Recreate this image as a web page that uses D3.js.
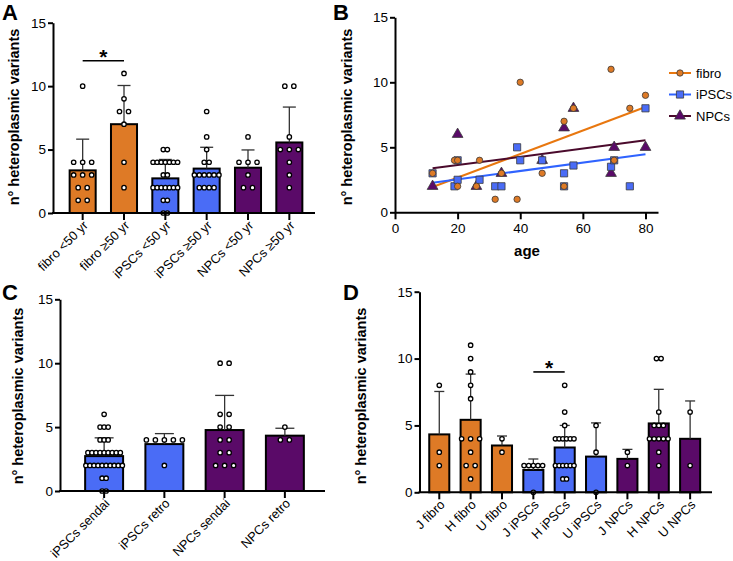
<!DOCTYPE html>
<html><head><meta charset="utf-8">
<script src="https://cdn.jsdelivr.net/npm/d3@7"></script>
<style>body{margin:0;background:#fff}svg{display:block}text{font-family:"Liberation Sans",Arial,Helvetica,sans-serif}</style>
</head><body>
<script>
// ---------- DATA ----------
const catsA = ["fibro <50 yr","fibro ≥50 yr","iPSCs <50 yr","iPSCs ≥50 yr","NPCs <50 yr","NPCs ≥50 yr"];
const groupA = ["fibro","fibro","iPSCs","iPSCs","NPCs","NPCs"];
const meanA = [3.36,7.0,2.73,3.5,3.57,5.56];
const sdA = [2.46,3.05,1.49,1.68,1.40,2.79];
const dotsA = [
  [10,4,4,4,3,3,3,2,2,1,1],
  [11,9,8,8,7,4,2],
  [5,5,4,4,4,4,4,4,4,3,3,2,2,2,2,2,2,2,1,1,0,0],
  [8,6,5,4,4,3,3,3,3,3,3,2,2,2,2],
  [6,4,4,4,3,2,2],
  [10,10,6,5,5,5,4,3,2]
];
const sigA = {from:"fibro <50 yr", to:"fibro ≥50 yr", y:12};

const catsC = ["iPSCs sendai","iPSCs retro","NPCs sendai","NPCs retro"];
const groupC = ["iPSCs","iPSCs","NPCs","NPCs"];
const meanC = [2.73,3.67,4.77,4.33];
const sdC = [1.43,0.82,2.71,0.58];
const dotsC = [
  [6,5,5,5,4,4,4,3,3,3,3,3,3,3,3,3,2,2,2,2,2,2,2,2,2,2,1,1,0,0],
  [4,4,4,4,4,2],
  [10,10,6,6,5,5,4,4,3,3,2,2,2],
  [5,4,4]
];

const catsD = ["J fibro","H fibro","U fibro","J iPSCs","H iPSCs","U iPSCs","J NPCs","H NPCs","U NPCs"];
const groupD = ["fibro","fibro","fibro","iPSCs","iPSCs","iPSCs","NPCs","NPCs","NPCs"];
const meanD = [4.33,5.42,3.5,1.67,3.35,2.67,2.5,5.15,4.0];
const sdD = [3.21,3.42,0.71,0.82,1.65,2.52,0.71,2.55,2.83];
const dotsD = [
  [8,3,2],
  [11,10,9,8,7,4,4,4,3,2,2,1],
  [4,3],
  [2,2,2,2,2,0],
  [8,6,5,4,4,4,4,4,4,2,2,2,2,2,2,1,1],
  [5,3,0],
  [3,2],
  [10,10,6,5,5,5,4,4,4,4,4,3,2],
  [6,2]
];
const sigD = {from:"J iPSCs", to:"H iPSCs", y:9};

const yTicks = [0,5,10,15];
const ageTicks = [0,20,40,60,80];

const ageFibro = [12,19,20,20,26,27,32,34,39,40,47,54,54,57,69,70,75,80];
const valFibro = [3,4,4,2,2,4,1,3,1,10,3,7,2,8,11,4,8,9];
const ageIPSC = [12,19,20,20,27,32,34,39,40,47,54,54,57,69,70,75,80];
const valIPSC = [3,2,4,2.5,2.5,2,2,5,4,4,3,2,3.6,3.5,4,2,8];
const ageNPC = [12,20,26,34,47,54,57,69,70,80];
const valNPC = [2,6,2,3,4,6.5,8,3,5,5];
const fitAge = [12,80];
const fitFibro = [1.95,8.1];
const fitIPSC = [2.28,4.46];
const fitNPC = [3.38,5.54];
const legendB = ["fibro","iPSCs","NPCs"];

// ---------- STYLE ----------
const fill = {fibro:"#DE7A26", iPSCs:"#4A6CF6", NPCs:"#5A0A68"};
const lineCol = {fibro:"#E8770F", iPSCs:"#2F63FF", NPCs:"#4A0A2C"};
const FONT = '"Liberation Sans",Arial,Helvetica,sans-serif';

const svg = d3.select("body").append("svg").attr("width",733).attr("height",561);

function letter(t,x,y){
  svg.append("text").attr("x",x).attr("y",y).text(t)
    .attr("font-size",22).attr("font-weight","bold");
}
function yTitle(x,y){
  svg.append("text").attr("transform",`translate(${x},${y}) rotate(-90)`)
    .attr("text-anchor","middle").attr("dy","0.35em")
    .attr("font-size",14.5).attr("font-weight","bold")
    .text("n° heteroplasmic variants");
}
function yAxis(y, x0){
  const g = svg.append("g").attr("transform",`translate(${x0},0)`)
    .call(d3.axisLeft(y).tickValues(yTicks).tickSize(5).tickSizeOuter(0).tickPadding(2));
  g.select(".domain").attr("stroke","#000").attr("stroke-width",2);
  g.selectAll(".tick line").attr("stroke","#000").attr("stroke-width",2);
  g.selectAll(".tick text").attr("font-size",13.5).attr("fill","#000").style("font-family",FONT);
  return g;
}

function layoutDots(vals, cx, span, maxSp){
  const counts = d3.rollup(vals, v=>v.length, d=>d);
  const maxRow = d3.max(Array.from(counts.values()));
  const sp = maxRow>1 ? Math.min(maxSp, span/(maxRow-1)) : 0;
  const out=[];
  counts.forEach((n,v)=>{ for(let i=0;i<n;i++) out.push({v, x: cx+(i-(n-1)/2)*sp}); });
  return out;
}

function barPanel(cfg){
  const {cats, groups, means, sds, dots, axisX0, axisX1, band, yRange, barFrac, sig} = cfg;
  const x = d3.scaleBand().domain(cats).range(band).padding(0);
  const y = d3.scaleLinear().domain([0,15]).range(yRange);
  const bw = x.step()*barFrac;
  const cx = c => x(c)+x.bandwidth()/2;
  const g = svg.append("g");
  g.selectAll("rect.bar").data(cats).join("rect")
    .attr("x",c=>cx(c)-bw/2).attr("width",bw)
    .attr("y",(c,i)=>y(means[i])).attr("height",(c,i)=>y(0)-y(means[i]))
    .attr("fill",(c,i)=>fill[groups[i]]).attr("stroke","#000").attr("stroke-width",2);
  const cap = bw*0.5;
  cats.forEach((c,i)=>{
    const top = y(means[i]+sds[i]);
    g.append("line").attr("x1",cx(c)).attr("x2",cx(c)).attr("y1",y(means[i])).attr("y2",top)
      .attr("stroke","#333").attr("stroke-width",1.3);
    g.append("line").attr("x1",cx(c)-cap/2).attr("x2",cx(c)+cap/2).attr("y1",top).attr("y2",top)
      .attr("stroke","#333").attr("stroke-width",1.3);
  });
  const xa = svg.append("g").attr("transform",`translate(0,${y(0)})`)
    .call(d3.axisBottom(x).tickSize(7).tickSizeOuter(0).tickFormat(""));
  xa.select(".domain").remove();
  xa.selectAll(".tick line").attr("stroke","#000").attr("stroke-width",2);
  svg.append("line").attr("x1",axisX0-1).attr("x2",axisX1).attr("y1",y(0)).attr("y2",y(0))
    .attr("stroke","#000").attr("stroke-width",2);
  cats.forEach(c=>{
    svg.append("text").attr("transform",`translate(${cx(c)+3},${y(0)+10}) rotate(-45)`)
      .attr("text-anchor","end").attr("dy","0.35em").attr("font-size",12.8).text(c);
  });
  yAxis(y, axisX0);
  cats.forEach((c,i)=>{
    const pts = layoutDots(dots[i], cx(c), bw-1.5, 9);
    g.selectAll(null).data(pts).join("circle")
      .attr("cx",d=>d.x).attr("cy",d=>y(d.v)).attr("r",2.2)
      .attr("fill","#fff").attr("stroke","#000").attr("stroke-width",1.3);
  });
  if(sig){
    const yy = y(sig.y);
    svg.append("line").attr("x1",cx(sig.from)).attr("x2",cx(sig.to)).attr("y1",yy).attr("y2",yy)
      .attr("stroke","#000").attr("stroke-width",1.6);
    svg.append("text").attr("x",(cx(sig.from)+cx(sig.to))/2).attr("y",yy+3)
      .attr("text-anchor","middle").attr("font-size",21).attr("font-weight","bold").text("*");
  }
}

// Panel A
letter("A",2,20);
yTitle(14,117);
barPanel({cats:catsA, groups:groupA, means:meanA, sds:sdA, dots:dotsA,
  axisX0:53, axisX1:315, band:[62,310], yRange:[213,22.7], barFrac:0.63, sig:sigA});

// Panel C
letter("C",2,300);
yTitle(18,396);
barPanel({cats:catsC, groups:groupC, means:meanC, sds:sdC, dots:dotsC,
  axisX0:60, axisX1:325, band:[74,315], yRange:[491,299.3], barFrac:0.63});

// Panel D
letter("D",343,300);
yTitle(361,396);
barPanel({cats:catsD, groups:groupD, means:meanD, sds:sdD, dots:dotsD,
  axisX0:419.5, axisX1:712, band:[423.6,705.8], yRange:[492.3,291.7], barFrac:0.64, sig:sigD});

// Panel B
letter("B",333,20);
yTitle(347,117);
{
  const x = d3.scaleLinear().domain([0,84]).range([395,658]);
  const y = d3.scaleLinear().domain([0,15]).range([212.3,17.3]);
  const xa = svg.append("g").attr("transform",`translate(0,${y(0)})`)
    .call(d3.axisBottom(x).tickValues(ageTicks).tickSize(7).tickSizeOuter(0).tickPadding(4));
  xa.select(".domain").attr("stroke","#000").attr("stroke-width",2);
  xa.selectAll(".tick line").attr("stroke","#000").attr("stroke-width",2);
  xa.selectAll(".tick text").attr("font-size",13.5).attr("fill","#000").style("font-family",FONT);
  yAxis(y, 395);
  svg.append("text").attr("x",527).attr("y",256).attr("text-anchor","middle")
    .attr("font-size",15).attr("font-weight","bold").text("age");

  const series = [
    {k:"fibro", ages:ageFibro, vals:valFibro, fit:fitFibro},
    {k:"iPSCs", ages:ageIPSC, vals:valIPSC, fit:fitIPSC},
    {k:"NPCs", ages:ageNPC, vals:valNPC, fit:fitNPC}
  ];
  const sym = {fibro:d3.symbolCircle, iPSCs:d3.symbolSquare, NPCs:d3.symbolTriangle};
  const size = {fibro:32, iPSCs:52, NPCs:50};
  const gl = svg.append("g");
  series.forEach(s=>{
    gl.append("line").attr("x1",x(fitAge[0])).attr("x2",x(fitAge[1]))
      .attr("y1",y(s.fit[0])).attr("y2",y(s.fit[1]))
      .attr("stroke",lineCol[s.k]).attr("stroke-width",2);
  });
  const gp = svg.append("g");
  ["NPCs","iPSCs","fibro"].forEach(k=>{
    const s = series.find(d=>d.k===k);
    s.ages.forEach((a,i)=>{
      gp.append("path").attr("d",d3.symbol().type(sym[k]).size(size[k])())
        .attr("transform",`translate(${x(a)},${y(s.vals[i])})`)
        .attr("fill",fill[k]).attr("stroke","#3a3a3a").attr("stroke-width",0.8);
    });
  });
  legendB.forEach((k,i)=>{
    const ly = 73 + i*21.5;
    svg.append("line").attr("x1",669).attr("x2",691).attr("y1",ly).attr("y2",ly)
      .attr("stroke",lineCol[k]).attr("stroke-width",2);
    svg.append("path").attr("d",d3.symbol().type(sym[k]).size(size[k])())
      .attr("transform",`translate(680,${ly})`)
      .attr("fill",fill[k]).attr("stroke","#3a3a3a").attr("stroke-width",0.8);
    svg.append("text").attr("x",696).attr("y",ly).attr("dy","0.35em")
      .attr("font-size",13).text(k);
  });
}
</script>
</body></html>
